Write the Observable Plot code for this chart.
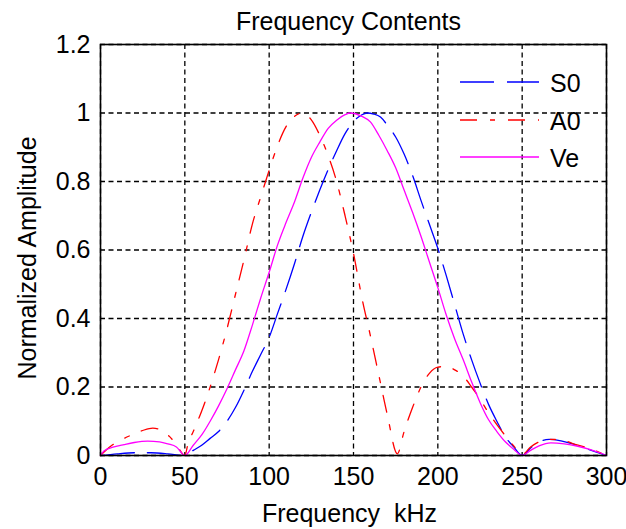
<!DOCTYPE html>
<html><head><meta charset="utf-8">
<script src="https://cdn.jsdelivr.net/npm/d3@7"></script>
<script src="https://cdn.jsdelivr.net/npm/@observablehq/plot@0.6"></script>
<style>
body{margin:0;background:#fff;}
#wrap{position:relative;width:626px;height:529px;font-family:"Liberation Sans",Arial,sans-serif;}
#legend{position:absolute;left:0;top:0;pointer-events:none;}
</style></head><body><div id="wrap"></div>
<script>
const titleText = "Frequency Contents";
const xLabelText = "Frequency  kHz";
const yLabelText = "Normalized Amplitude";
const xTicks = [0, 50, 100, 150, 200, 250, 300];
const xTickLabels = ["0", "50", "100", "150", "200", "250", "300"];
const yTicks = [0, 0.2, 0.4, 0.6, 0.8, 1.0, 1.2];
const yTickLabels = ["0", "0.2", "0.4", "0.6", "0.8", "1", "1.2"];
const seriesNames = ["S0", "A0", "Ve"];

const s0Freq = [0,10,20,30,40,50,55,60,65,70,75,80,85,90,95,100,105,110,115,120,125,130,135,140,145,150,155,158,162,166,170,175,180,185,190,195,200,205,210,215,220,225,230,235,240,245,250,255,260,266,273,280,287,294,300];
const s0Amp = [0,0.005,0.008,0.008,0.005,0,0.015,0.03,0.05,0.07,0.1,0.14,0.19,0.245,0.295,0.345,0.415,0.485,0.56,0.64,0.71,0.775,0.835,0.89,0.94,0.975,0.995,1.0,0.997,0.988,0.965,0.93,0.88,0.818,0.745,0.675,0.605,0.525,0.44,0.355,0.28,0.212,0.15,0.1,0.055,0.025,0,0.022,0.04,0.047,0.043,0.034,0.022,0.01,0];

const a0Freq = [0,6,12,19,25,31,37,41,45,50,52,55,60,65,70,75,80,85,90,95,100,105,110,115,120,125,130,135,140,145,150,155,160,165,170,176,180,185,190,195,200,205,210,215,220,225,230,235,240,245,250,255,260,266,273,280,287,294,300];
const a0Amp = [0,0.027,0.045,0.061,0.073,0.08,0.071,0.055,0.032,0,0.037,0.07,0.13,0.2,0.28,0.37,0.47,0.57,0.675,0.755,0.833,0.905,0.96,0.99,1.0,0.98,0.935,0.875,0.8,0.7,0.59,0.46,0.35,0.235,0.12,0.005,0.07,0.14,0.2,0.24,0.258,0.26,0.25,0.232,0.2,0.165,0.125,0.09,0.058,0.028,0.003,0.025,0.04,0.047,0.046,0.035,0.025,0.013,0];

const veFreq = [0,2,8,14,20,28,35,40,45,50,55,60,65,70,75,80,85,90,95,100,105,110,115,120,125,130,135,140,145,148,155,160,165,170,175,180,185,190,195,200,205,210,215,220,225,230,235,240,245,250,255,260,267,275,283,290,296,300];
const veAmp = [0,0.013,0.025,0.032,0.038,0.042,0.04,0.034,0.025,0,0.03,0.06,0.1,0.145,0.195,0.25,0.305,0.38,0.46,0.535,0.615,0.68,0.74,0.81,0.87,0.915,0.955,0.979,0.995,1.0,0.99,0.974,0.935,0.89,0.84,0.775,0.71,0.64,0.565,0.49,0.41,0.34,0.28,0.215,0.155,0.105,0.07,0.04,0.018,0,0.015,0.028,0.037,0.034,0.027,0.018,0.008,0];

const toRows = (fs, as) => fs.map((f, i) => ({f, a: as[i]}));
const s0 = toRows(s0Freq, s0Amp);
const a0 = toRows(a0Freq, a0Amp);
const ve = toRows(veFreq, veAmp);

const styles = {
  S0: {stroke: "#0000ff", dash: "34,13"},
  A0: {stroke: "#ff0000", dash: "17,13,5,13"},
  Ve: {stroke: "#ff00ff", dash: null}
};
const font = '"Liberation Sans", Arial, sans-serif';
const grid = {stroke: "#000", strokeOpacity: 1, strokeWidth: 1.3, strokeDasharray: "5,3.5"};

const chart = Plot.plot({
  width: 626, height: 529,
  marginTop: 44, marginBottom: 74, marginLeft: 100, marginRight: 20,
  style: {fontFamily: font, fontSize: "25px", color: "#000", background: "#fff"},
  x: {domain: [0, 300], ticks: xTicks, tickFormat: (d) => xTickLabels[xTicks.indexOf(d)], tickSize: 0, tickPadding: 12, label: null},
  y: {domain: [0, 1.2], ticks: yTicks, tickFormat: (d) => yTickLabels[yTicks.indexOf(d)], tickSize: 0, tickPadding: 10, label: null},
  marks: [
    Plot.ruleX(xTicks, grid),
    Plot.ruleY(yTicks, grid),
    Plot.line(s0, {x: "f", y: "a", stroke: styles.S0.stroke, strokeDasharray: styles.S0.dash, strokeWidth: 1.3, curve: "monotone-x"}),
    Plot.line(a0, {x: "f", y: "a", stroke: styles.A0.stroke, strokeDasharray: styles.A0.dash, strokeWidth: 1.3, curve: "monotone-x"}),
    Plot.line(ve, {x: "f", y: "a", stroke: styles.Ve.stroke, strokeWidth: 1.3, curve: "monotone-x"}),
    Plot.frame({stroke: "#000", strokeWidth: 1.6}),
    Plot.text([titleText], {frameAnchor: "top", textAnchor: "middle", lineAnchor: "middle", dx: -5, dy: -23, fontSize: 25, fill: "#000"}),
    Plot.text([xLabelText], {frameAnchor: "bottom", textAnchor: "middle", lineAnchor: "middle", dy: 58, dx: -4, fontSize: 25, fill: "#000"}),
    Plot.text([yLabelText], {frameAnchor: "left", textAnchor: "middle", lineAnchor: "middle", rotate: -90, dx: -73, dy: 8, fontSize: 25, fill: "#000"})
  ]
});
const wrap = document.getElementById("wrap");
wrap.appendChild(chart);

// legend overlay (no box, as in the reference)
const lg = d3.select(wrap).append("svg").attr("id", "legend")
  .attr("width", 626).attr("height", 529);
const rowY = [82, 120, 157];
seriesNames.forEach((name, i) => {
  const st = styles[name];
  lg.append("line").attr("x1", 460).attr("x2", 539).attr("y1", rowY[i]).attr("y2", rowY[i])
    .attr("stroke", st.stroke).attr("stroke-width", 1.6)
    .attr("stroke-dasharray", st.dash);
  lg.append("text").attr("x", 550).attr("y", rowY[i] + 10)
    .attr("font-family", font).attr("font-size", 25).attr("fill", "#000").text(name);
});
</script>
</body></html>
